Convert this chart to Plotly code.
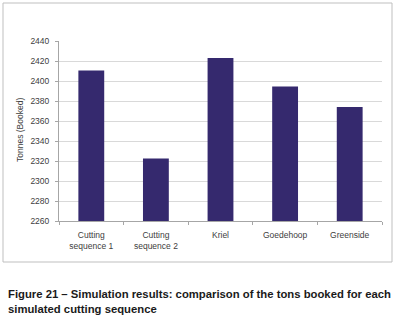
import plotly.graph_objects as go

categories = ["Cutting<br>sequence 1", "Cutting<br>sequence 2", "Kriel", "Goedehoop", "Greenside"]
tonnes = [2410.5, 2322.5, 2423, 2394.5, 2374]
y_ticks = [2260, 2280, 2300, 2320, 2340, 2360, 2380, 2400, 2420, 2440]

W, H = 398, 319
ML, MR, MT, MB = 59, 16, 41, 98
PW, PH = W - ML - MR, H - MT - MB

def px_x(p):
    return (p - ML) / PW

def px_y(p):
    return (H - MB - p) / PH

fig = go.Figure()
fig.add_trace(go.Bar(
    x=categories, y=tonnes,
    marker=dict(color="#35296e", line=dict(width=0)),
))

fig.update_layout(
    width=W, height=H,
    margin=dict(l=ML, r=MR, t=MT, b=MB),
    paper_bgcolor="white", plot_bgcolor="white",
    bargap=0.6,
    showlegend=False,
    font=dict(family="Liberation Sans", size=8.5, color="#404040"),
    xaxis=dict(
        showline=True, linecolor="#a6a6a6", linewidth=1,
        ticks="outside", tickson="boundaries", ticklen=3, tickcolor="#a6a6a6",
        ticklabelstandoff=6,
        showgrid=False,
        tickfont=dict(size=8.5, color="#404040"),
    ),
    yaxis=dict(
        range=[2260, 2440], tickvals=y_ticks,
        showline=True, linecolor="#a6a6a6", linewidth=1,
        ticks="outside", ticklen=3, tickcolor="#a6a6a6",
        ticklabelstandoff=4,
        showgrid=True, gridcolor="#d9d9d9", gridwidth=1,
        zeroline=False,
        tickfont=dict(size=8.5, color="#404040"),
    ),
    shapes=[dict(
        type="rect", xref="paper", yref="paper",
        x0=px_x(3), x1=px_x(392), y0=px_y(262), y1=px_y(3),
        line=dict(color="#bfbfbf", width=1), fillcolor="rgba(0,0,0,0)",
        layer="below",
    )],
    annotations=[
        dict(text="Tonnes (Booked)", textangle=-90, showarrow=False,
             xref="paper", yref="paper", x=px_x(20), y=px_y(130),
             xanchor="center", yanchor="middle",
             font=dict(size=8.5, color="#404040")),
        dict(text="<b>Figure 21 – Simulation results: comparison of the tons booked for each</b>",
             showarrow=False, align="left",
             xref="paper", yref="paper", x=px_x(6), y=px_y(294),
             xanchor="left", yanchor="middle",
             font=dict(family="Liberation Sans", size=11.3, color="#1a1a1a")),
        dict(text="<b>simulated cutting sequence</b>",
             showarrow=False, align="left",
             xref="paper", yref="paper", x=px_x(6), y=px_y(309),
             xanchor="left", yanchor="middle",
             font=dict(family="Liberation Sans", size=11.3, color="#1a1a1a")),
    ],
)

fig.write_html("out.html", config={"displayModeBar": False},
               post_script="document.body.style.margin='0';")
